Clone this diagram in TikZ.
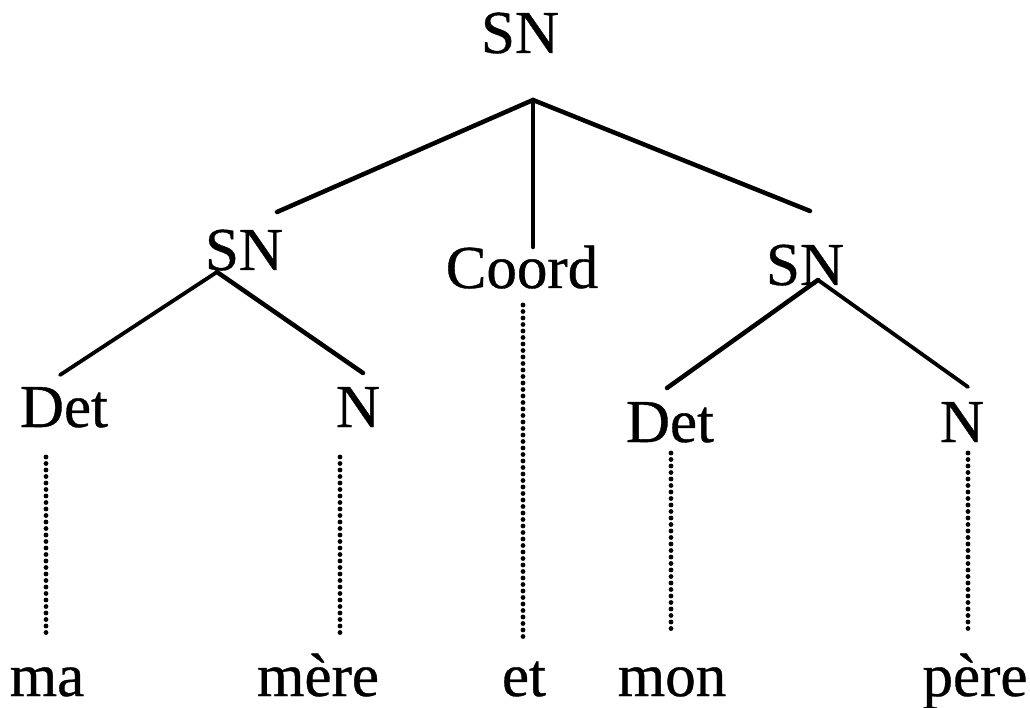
\documentclass[tikz,border=0pt]{standalone}
\usepackage{fontspec}
\setmainfont{Liberation Serif}
\newfontfamily\treefont[FakeBold=0.6]{Liberation Serif}
\begin{document}
\begin{tikzpicture}[x=1pt,y=-1pt,
    lbl/.style={anchor=base,inner sep=0pt,font=\treefont\fontsize{61}{72}\selectfont},
    branch/.style={line width=4.5pt,line cap=round},
    trace/.style={line width=4.8pt,line cap=round,dash pattern=on 0pt off 6.5pt}]
    \useasboundingbox (0,0) rectangle (1030,708);

    % categories
    \node[lbl] (sn) at (520,53) {SN};
    \node[lbl] (snA) at (244,270) {SN};
    \node[lbl] (coord) at (522,288) {Coord};
    \node[lbl] (snB) at (805,285) {SN};
    \node[lbl] (detA) at (64,427) {Det};
    \node[lbl] (nA) at (358,427) {N};
    \node[lbl] (detB) at (670,442) {Det};
    \node[lbl] (nB) at (962,442) {N};

    % words
    \node[lbl] (ma) at (47,696) {ma};
    \node[lbl] (mere) at (318,696) {mère};
    \node[lbl] (et) at (524,696) {et};
    \node[lbl] (mon) at (672,696) {mon};
    \node[lbl] (pere) at (975,696) {père};

    % branch ends
    \coordinate (sn-b) at (533,100);
    \coordinate (snA-t) at (277,212);
    \coordinate (coord-t) at (533,247);
    \coordinate (snB-t) at (810,211);
    \coordinate (snA-b) at (217,272);
    \coordinate (detA-t) at (60,375);
    \coordinate (nA-t) at (363,373);
    \coordinate (snB-b) at (818,280);
    \coordinate (detB-t) at (667,388);
    \coordinate (nB-t) at (968,387);

    \draw[branch] (sn-b) -- (snA-t);
    \draw[branch] (sn-b) -- (coord-t);
    \draw[branch] (sn-b) -- (snB-t);
    \draw[branch, line width=3.8pt] (snA-b) -- (detA-t);
    \draw[branch] (snA-b) -- (nA-t);
    \draw[branch] (snB-b) -- (detB-t);
    \draw[branch, line width=3.8pt] (snB-b) -- (nB-t);

    % dotted lines to the words
    \coordinate (detA-d) at (46,457);  \coordinate (ma-u) at (46,637);
    \coordinate (nA-d) at (340,457);   \coordinate (mere-u) at (340,637);
    \coordinate (coord-d) at (523,305); \coordinate (et-u) at (523,640);
    \coordinate (detB-d) at (671,453); \coordinate (mon-u) at (671,633);
    \coordinate (nB-d) at (968,453);   \coordinate (pere-u) at (968,633);

    \draw[trace] (detA-d) -- (ma-u);
    \draw[trace] (nA-d) -- (mere-u);
    \draw[trace] (coord-d) -- (et-u);
    \draw[trace] (detB-d) -- (mon-u);
    \draw[trace] (nB-d) -- (pere-u);
\end{tikzpicture}
\end{document}
